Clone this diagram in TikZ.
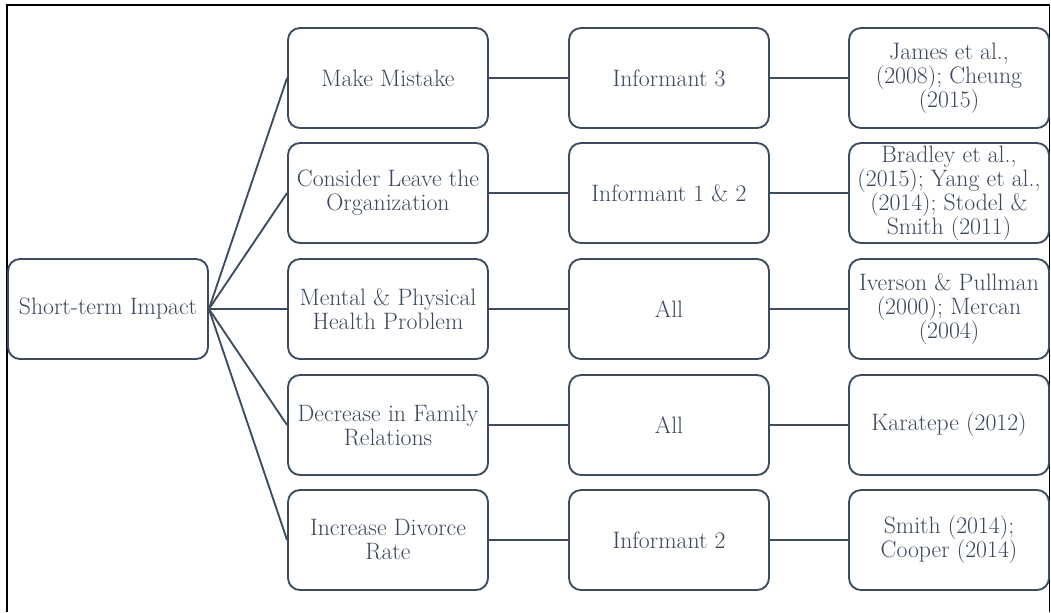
\documentclass[tikz,border=0pt]{standalone}
\usepackage{xcolor}
\usepackage{tikz}
\usetikzlibrary{arrows,calc,shapes}

\definecolor{boxline}{HTML}{3E4C60}
\definecolor{boxtext}{HTML}{3A475B}

\tikzset{
    card/.style={draw=boxline, line width=1.4pt, rounded corners=9pt, fill=white,
        text=boxtext, minimum width=150pt, minimum height=75pt, inner sep=2pt,
        align=center, font=\rmfamily\fontsize{17.8}{18}\selectfont},
    link/.style={draw=boxline, line width=1.4pt}
}

\begin{document}
\begin{tikzpicture}[x=0.75pt, y=-0.75pt]
        \useasboundingbox (0, 0) rectangle (1051, 612);
        \draw [black, line width=1.4pt] (7, 612) -- (7, 5) -- (1049.5, 5) -- (1049.5, 612);

        \node [card] (impact) at (108, 309) {Short-term Impact};

        \node [card] (m1) at (388, 78) {Make Mistake};
        \node [card] (m2) at (388, 193) {Consider Leave the\\Organization};
        \node [card] (m3) at (388, 309) {Mental \& Physical\\Health Problem};
        \node [card] (m4) at (388, 425) {Decrease in Family\\Relations};
        \node [card] (m5) at (388, 540) {Increase Divorce\\Rate};

        \node [card] (i1) at (669, 78) {Informant 3};
        \node [card] (i2) at (669, 193) {Informant 1 \& 2};
        \node [card] (i3) at (669, 309) {All};
        \node [card] (i4) at (669, 425) {All};
        \node [card] (i5) at (669, 540) {Informant 2};

        \node [card] (r1) at (949, 78) {James et al.,\\(2008); Cheung\\(2015)};
        \node [card] (r2) at (949, 193) {Bradley et al.,\\(2015); Yang et al.,\\(2014); Stodel \&\\Smith (2011)};
        \node [card] (r3) at (949, 309) {Iverson \& Pullman\\(2000); Mercan\\(2004)};
        \node [card] (r4) at (949, 425) {Karatepe (2012)};
        \node [card] (r5) at (949, 540) {Smith (2014);\\Cooper (2014)};

        \foreach \i in {1, 2, ..., 5}{
            \draw [link] (impact.east) -- (m\i.west);
            \draw [link] (m\i.east) -- (i\i.west);
            \draw [link] (i\i.east) -- (r\i.west);
        }
    \end{tikzpicture}
\end{document}
